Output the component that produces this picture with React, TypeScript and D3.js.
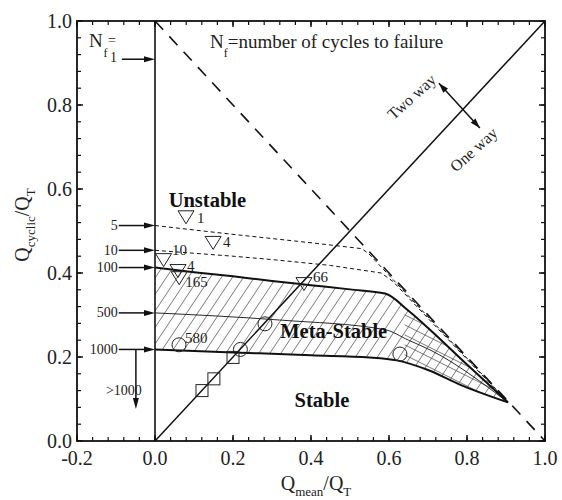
import React from 'react';
import * as d3 from 'd3';

const FONT = '"Liberation Serif", "Times New Roman", Times, serif';
const W = 562;
const H = 500;

// ---------- data ----------
const xTickValues = [-0.2, 0, 0.2, 0.4, 0.6, 0.8, 1.0];
const xTickLabels = ['-0.2', '0.0', '0.2', '0.4', '0.6', '0.8', '1.0'];
const yTickValues = [0, 0.2, 0.4, 0.6, 0.8, 1.0];
const yTickLabels = ['0.0', '0.2', '0.4', '0.6', '0.8', '1.0'];

type P = [number, number];

const curveN5: P[] = [[0, 0.513], [0.2, 0.492], [0.4, 0.472], [0.53, 0.458], [0.548, 0.446], [0.905, 0.093]];
const curveN10: P[] = [[0, 0.454], [0.2, 0.44], [0.3, 0.432], [0.45, 0.418], [0.58, 0.4], [0.61, 0.38], [0.905, 0.092]];
const curveN100: P[] = [[0, 0.413], [0.1, 0.402], [0.2, 0.392], [0.3, 0.381], [0.4, 0.371], [0.5, 0.361], [0.59, 0.351], [0.65, 0.31], [0.705, 0.265], [0.8, 0.182], [0.905, 0.092]];
const curveN500: P[] = [[0, 0.305], [0.32, 0.288], [0.59, 0.265], [0.65, 0.24], [0.705, 0.217], [0.905, 0.092]];
const curveN1000: P[] = [[0, 0.218], [0.2, 0.211], [0.4, 0.204], [0.55, 0.199], [0.62, 0.192], [0.7, 0.169], [0.78, 0.135], [0.905, 0.092]];

const arrowLevels = [0.513, 0.454, 0.413, 0.305, 0.218];
const arrowLabels = ['5', '10', '100', '500', '1000'];
const arrowN1Level = 0.909;
const belowArrow = { x: -0.049, from: 0.218, to: 0.076, label: '>1000' };

const trianglePts: P[] = [[0.0795, 0.535], [0.149, 0.474], [0.022, 0.433], [0.059, 0.407], [0.062, 0.39], [0.382, 0.376]];
const triangleLabels = ['1', '4', '10', '4', '165', '66'];
const triangleLabelOffsets: P[] = [[11, 7], [10, 5], [8.5, -4], [9, 1], [6, 10], [9, -1]];

const circlePts: P[] = [[0.0615, 0.229], [0.219, 0.218], [0.282, 0.279], [0.628, 0.207]];
const circleLabels = ['580', '', '', ''];

const squarePts: P[] = [[0.1205, 0.12], [0.151, 0.148], [0.2, 0.199]];

const regionLabels = [
  { text: 'Unstable', x: 0.035, y: 0.557 },
  { text: 'Meta-Stable', x: 0.321, y: 0.245 },
  { text: 'Stable', x: 0.358, y: 0.081 },
];

const twoWayArrow = { x1: 0.728, y1: 0.852, x2: 0.833, y2: 0.745 };

// ---------- scales ----------
const x = d3.scaleLinear().domain([-0.2, 1.0]).range([77, 545]);
const y = d3.scaleLinear().domain([0, 1]).range([441, 21]);

const lineGen = d3.line<P>().x(d => x(d[0])).y(d => y(d[1]));
const smoothGen = d3.line<P>().x(d => x(d[0])).y(d => y(d[1])).curve(d3.curveMonotoneX);

function arrowHead(x1: number, y1: number, x2: number, y2: number, len = 10, half = 3): string {
  const a = Math.atan2(y2 - y1, x2 - x1);
  const bx = x2 - len * Math.cos(a);
  const by = y2 - len * Math.sin(a);
  const px = -Math.sin(a) * half;
  const py = Math.cos(a) * half;
  return `M${x2},${y2}L${bx + px},${by + py}L${bx - px},${by - py}Z`;
}

export default function App() {
  const minorX = d3.range(-0.2, 1.0001, 0.04);
  const minorY = d3.range(0, 1.0001, 0.04);
  const left = x(-0.2), right = x(1.0), top = y(1), bottom = y(0);

  const bandPath = smoothGen(curveN100)! + 'L' + smoothGen(curveN1000.slice().reverse())!.slice(1) + 'Z';

  const hatch = d3.range(-20, 45).map(k => {
    const x0 = 155 + k * 11;
    return { x1: x0, y1: 410, x2: x0 + 150 / 1.5, y2: 260 };
  });
  const cross = d3.range(-6, 14).map(k => {
    const y0 = 230 + k * 10;
    return { x1: 395, y1: y0, x2: 515, y2: y0 + 60 };
  });

  const stroke = '#111';

  return (
    <svg width={W} height={H} style={{ position: 'absolute', left: 0, top: 0, background: '#fff' }} fontFamily={FONT}>
      <rect x={0} y={0} width={W} height={H} fill="#fff" />
      <defs>
        <clipPath id="band">
          <path d={bandPath} />
        </clipPath>
        <clipPath id="bandRight">
          <rect x={x(0.64)} y={0} width={200} height={500} />
        </clipPath>
      </defs>

      {/* hatching */}
      <g clipPath="url(#band)" stroke="#555" strokeWidth={0.8}>
        {hatch.map((h, i) => <line key={i} {...h} />)}
        <g clipPath="url(#bandRight)">
          {cross.map((h, i) => <line key={i} {...h} />)}
        </g>
      </g>

      {/* big dashed diagonal */}
      <path d={lineGen([[0, 1], [1, 0]])!} fill="none" stroke={stroke} strokeWidth={1.6} strokeDasharray="12 9" />
      {/* solid diagonal */}
      <path d={lineGen([[0, 0], [1, 1]])!} fill="none" stroke={stroke} strokeWidth={1.5} />
      {/* vertical x=0 */}
      <path d={lineGen([[0, 0], [0, 1]])!} fill="none" stroke={stroke} strokeWidth={1.6} />

      {/* contour curves */}
      <path d={lineGen(curveN5)!} fill="none" stroke={stroke} strokeWidth={1} strokeDasharray="4 3" />
      <path d={lineGen(curveN10)!} fill="none" stroke={stroke} strokeWidth={1} strokeDasharray="4 3" />
      <path d={smoothGen(curveN500)!} fill="none" stroke={stroke} strokeWidth={0.9} />
      <path d={smoothGen(curveN100)!} fill="none" stroke={stroke} strokeWidth={2} />
      <path d={smoothGen(curveN1000)!} fill="none" stroke={stroke} strokeWidth={2} />

      {/* squares */}
      {squarePts.map((p, i) => (
        <rect key={i} x={x(p[0]) - 6} y={y(p[1]) - 6} width={12} height={12} fill="none" stroke="#222" strokeWidth={1} />
      ))}
      {/* circles */}
      {circlePts.map((p, i) => (
        <g key={i}>
          <circle cx={x(p[0])} cy={y(p[1])} r={7} fill="none" stroke="#222" strokeWidth={1} />
          {circleLabels[i] && (
            <text x={x(p[0]) + 6} y={y(p[1]) - 2} fontSize={15} fill="#222">{circleLabels[i]}</text>
          )}
        </g>
      ))}
      {/* triangles */}
      {trianglePts.map((p, i) => {
        const cx = x(p[0]), cy = y(p[1]);
        return (
          <g key={i}>
            <path d={`M${cx - 8},${cy - 5.5}L${cx + 8},${cy - 5.5}L${cx},${cy + 7.5}Z`} fill="none" stroke="#222" strokeWidth={1} />
            <text x={cx + triangleLabelOffsets[i][0]} y={cy + triangleLabelOffsets[i][1]} fontSize={15} fill="#222">{triangleLabels[i]}</text>
          </g>
        );
      })}

      {/* left arrows */}
      {arrowLevels.map((lv, i) => {
        const x1 = x(-0.093), x2 = x(0), yy = y(lv);
        return (
          <g key={i}>
            <line x1={x1} y1={yy} x2={x2 - 8} y2={yy} stroke={stroke} strokeWidth={1.5} />
            <path d={arrowHead(x1, yy, x2, yy, 11, 3)} fill={stroke} />
            <text x={x1 - 1} y={yy + 4.5} fontSize={14} textAnchor="end" fill="#222">{arrowLabels[i]}</text>
          </g>
        );
      })}
      {(() => {
        const x1 = x(-0.085), x2 = x(0), yy = y(arrowN1Level);
        return (
          <g>
            <line x1={x1} y1={yy} x2={x2 - 8} y2={yy} stroke={stroke} strokeWidth={1.5} />
            <path d={arrowHead(x1, yy, x2, yy, 11, 3)} fill={stroke} />
            <text x={89} y={47} fontSize={19} fill="#222">N</text>
            <text x={103.5} y={57} fontSize={12} fill="#222">f</text>
            <text x={108} y={45} fontSize={14} fill="#222">=</text>
            <text x={110} y={62} fontSize={14} fill="#222">1</text>
          </g>
        );
      })()}
      {(() => {
        const xx = x(belowArrow.x), y1 = y(belowArrow.from), y2 = y(belowArrow.to);
        return (
          <g>
            <line x1={xx} y1={y1} x2={xx} y2={y2 - 8} stroke={stroke} strokeWidth={1.5} />
            <path d={arrowHead(xx, y1, xx, y2, 11, 3)} fill={stroke} />
            <text x={xx + 6} y={395} fontSize={14} textAnchor="end" fill="#222">{belowArrow.label}</text>
          </g>
        );
      })()}

      {/* region labels */}
      {regionLabels.map((r, i) => (
        <text key={i} x={x(r.x)} y={y(r.y)} fontSize={20.5} fontWeight="bold" fill="#111">{r.text}</text>
      ))}

      {/* Nf definition */}
      <text x={210} y={48} fontSize={19} fill="#222">
        N<tspan fontSize={12} dy={9}>f</tspan><tspan dy={-9}>=number of cycles to failure</tspan>
      </text>

      {/* two way / one way */}
      {(() => {
        const a = twoWayArrow;
        const x1 = x(a.x1), y1 = y(a.y1), x2 = x(a.x2), y2 = y(a.y2);
        return (
          <g>
            <line x1={x1} y1={y1} x2={x2} y2={y2} stroke={stroke} strokeWidth={1.5} />
            <path d={arrowHead(x2, y2, x1, y1, 10, 3.2)} fill={stroke} />
            <path d={arrowHead(x1, y1, x2, y2, 10, 3.2)} fill={stroke} />
          </g>
        );
      })()}
      <text transform={`translate(${x(0.659)},${y(0.819)}) rotate(-42)`} textAnchor="middle" dy={5} fontSize={16} fill="#222">Two way</text>
      <text transform={`translate(${x(0.818)},${y(0.693)}) rotate(-42)`} textAnchor="middle" dy={5} fontSize={16} fill="#222">One way</text>

      {/* axes frame */}
      <rect x={left} y={top} width={right - left} height={bottom - top} fill="none" stroke={stroke} strokeWidth={1.8} />
      {/* minor ticks */}
      {minorX.map((v, i) => (
        <g key={'mx' + i} stroke={stroke} strokeWidth={1.2}>
          <line x1={x(v)} x2={x(v)} y1={bottom} y2={bottom - 4} />
          <line x1={x(v)} x2={x(v)} y1={top} y2={top + 4} />
        </g>
      ))}
      {minorY.map((v, i) => (
        <g key={'my' + i} stroke={stroke} strokeWidth={1.2}>
          <line x1={left} x2={left + 4} y1={y(v)} y2={y(v)} />
          <line x1={right} x2={right - 4} y1={y(v)} y2={y(v)} />
        </g>
      ))}
      {/* major ticks + labels */}
      {xTickValues.map((v, i) => (
        <g key={'x' + i}>
          <line x1={x(v)} x2={x(v)} y1={bottom} y2={bottom - 6} stroke={stroke} strokeWidth={1.5} />
          <line x1={x(v)} x2={x(v)} y1={top} y2={top + 6} stroke={stroke} strokeWidth={1.5} />
          <text x={x(v)} y={465} fontSize={20} textAnchor="middle" fill="#222">{xTickLabels[i]}</text>
        </g>
      ))}
      {yTickValues.map((v, i) => (
        <g key={'y' + i}>
          <line x1={left} x2={left + 6} y1={y(v)} y2={y(v)} stroke={stroke} strokeWidth={1.5} />
          <line x1={right} x2={right - 6} y1={y(v)} y2={y(v)} stroke={stroke} strokeWidth={1.5} />
          <text x={left - 5} y={y(v) + 7} fontSize={20} textAnchor="end" fill="#222">{yTickLabels[i]}</text>
        </g>
      ))}

      {/* axis titles */}
      <text x={316} y={490} fontSize={20} textAnchor="middle" fill="#222">
        Q<tspan fontSize={13} dy={6}>mean</tspan><tspan dy={-6}>/Q</tspan><tspan fontSize={13} dy={6}>T</tspan>
      </text>
      <text transform="translate(29,225) rotate(-90)" fontSize={20} textAnchor="middle" fill="#222">
        Q<tspan fontSize={13} dy={6}>cyclic</tspan><tspan dy={-6}>/Q</tspan><tspan fontSize={13} dy={6}>T</tspan>
      </text>
    </svg>
  );
}
